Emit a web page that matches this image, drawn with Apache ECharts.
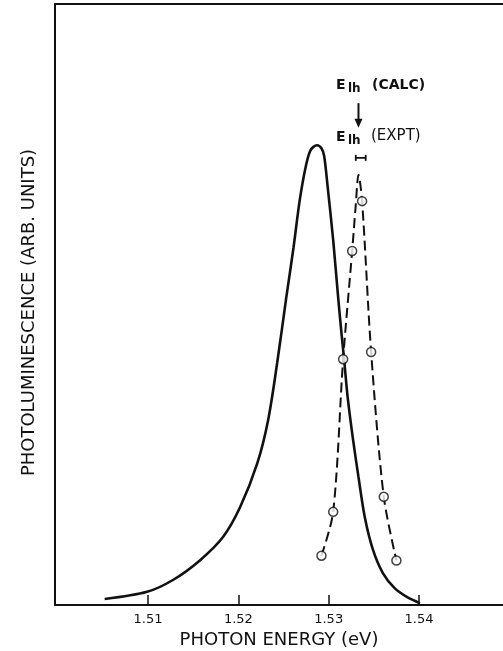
<!DOCTYPE html>
<html lang="en">
<head>
    <meta charset="UTF-8">
    <title>Photoluminescence</title>
    <script src="https://cdn.jsdelivr.net/npm/echarts@6/dist/echarts.min.js"></script>
    <style>
        html, body { margin: 0; padding: 0; background: #fff; }
        #main { width: 503px; height: 651px; }
    </style>
</head>
<body>
<div id="main"></div>
<script>
    // photon energy (eV) / intensity (arb. units, 0-100)
    var calcX = [1.5052, 1.5099, 1.5128, 1.5158, 1.5183, 1.5202, 1.5221, 1.5233, 1.5243, 1.5253,
        1.5261, 1.5268, 1.5275, 1.5280, 1.5287, 1.5292, 1.5295, 1.5299, 1.5305,
        1.5310, 1.5314, 1.5317, 1.5321, 1.5327, 1.5333, 1.5340, 1.5349, 1.5360, 1.5373,
        1.5387, 1.5401];
    var calcY = [1.0, 2.2, 4.2, 7.5, 11.3, 16.3, 23.6, 30.8, 40.3, 51.1,
        59.4, 67.4, 73.2, 75.7, 76.5, 76.0, 74.7, 69.4, 60.7,
        52.0, 45.5, 41.0, 34.6, 27.5, 21.3, 14.6, 9.2, 5.3, 2.8,
        1.3, 0.3];

    // measured points (circles)
    var exptX = [1.5292, 1.5305, 1.5316, 1.5326, 1.5337, 1.5347, 1.5361, 1.5375];
    var exptY = [8.2, 15.5, 40.9, 58.9, 67.2, 42.1, 18.0, 7.4];

    // hand-drawn dashed curve through the measured points
    var fitX = [1.5292, 1.5305, 1.5316, 1.5326, 1.5330, 1.5333, 1.5337, 1.5347, 1.5361, 1.5375];
    var fitY = [8.2, 15.5, 40.9, 58.9, 66.6, 71.6, 67.2, 42.1, 18.0, 7.4];

    var xTicks = [1.51, 1.52, 1.53, 1.54];

    // E_lh markers: calc arrow [x, yFrom, yTo] and expt error bar [xLow, xHigh, y]
    var arrow = [1.5333, 83.5, 79.4];
    var errBar = [1.5330, 1.5341, 74.4];

    function pairs(xs, ys) {
        return xs.map(function (x, i) { return [x, ys[i]]; });
    }

    var myChart = echarts.init(document.getElementById('main'));

    var font = '"DejaVu Sans", sans-serif';
    var ink = '#111';
    var option = {
        backgroundColor: '#fff',
        animation: false,
        grid: { left: 55, right: 0, top: 4, bottom: 46, outerBoundsMode: 'none', containLabel: false },
        xAxis: [{
            type: 'value',
            min: 1.4997,
            max: 1.5493,
            name: 'PHOTON ENERGY (eV)',
            nameLocation: 'middle',
            nameGap: 24,
            nameTextStyle: { fontFamily: font, fontSize: 18, color: ink },
            axisLine: { show: true, lineStyle: { color: ink, width: 2 } },
            axisTick: { show: true, inside: true, length: 10, customValues: xTicks, lineStyle: { color: ink, width: 1.5 } },
            axisLabel: { customValues: xTicks, margin: 8, fontFamily: font, fontSize: 13, color: ink,
                formatter: function (v) { return v.toFixed(2); } },
            splitLine: { show: false }
        }, {
            type: 'value',
            position: 'top',
            min: 1.4997,
            max: 1.5493,
            axisLine: { show: true, lineStyle: { color: ink, width: 2 } },
            axisTick: { show: false },
            axisLabel: { show: false },
            splitLine: { show: false }
        }],
        yAxis: {
            type: 'value',
            min: 0,
            max: 100,
            name: 'PHOTOLUMINESCENCE (ARB. UNITS)',
            nameLocation: 'middle',
            nameGap: 17,
            nameTextStyle: { fontFamily: font, fontSize: 18, color: ink, padding: [0, 16, 0, 0] },
            axisLine: { show: true, lineStyle: { color: ink, width: 2 } },
            axisTick: { show: false },
            axisLabel: { show: false },
            splitLine: { show: false }
        },
        series: [{
            name: 'calc',
            type: 'line',
            data: pairs(calcX, calcY),
            smooth: 0.3,
            showSymbol: false,
            lineStyle: { color: ink, width: 2.6 }
        }, {
            name: 'fit',
            type: 'line',
            data: pairs(fitX, fitY),
            smooth: 0.3,
            showSymbol: false,
            lineStyle: { color: ink, width: 2, type: [10, 5] }
        }, {
            name: 'expt',
            type: 'scatter',
            data: pairs(exptX, exptY),
            symbol: 'circle',
            symbolSize: 9,
            itemStyle: { color: '#fff', borderColor: ink, borderWidth: 1.5 },
            z: 5
        }, {
            name: 'markers',
            type: 'custom',
            data: [[errBar[0], errBar[1], errBar[2], arrow[0], arrow[1], arrow[2]]],
            renderItem: function (params, api) {
                var a = api.coord([api.value(0), api.value(2)]);
                var b = api.coord([api.value(1), api.value(2)]);
                var t = api.coord([api.value(3), api.value(4)]);
                var h = api.coord([api.value(3), api.value(5)]);
                var st = { stroke: ink, lineWidth: 1.8 };
                return {
                    type: 'group',
                    children: [
                        { type: 'line', shape: { x1: a[0], y1: a[1], x2: b[0], y2: b[1] }, style: st },
                        { type: 'line', shape: { x1: a[0], y1: a[1] - 3, x2: a[0], y2: a[1] + 3 }, style: st },
                        { type: 'line', shape: { x1: b[0], y1: b[1] - 3, x2: b[0], y2: b[1] + 3 }, style: st },
                        { type: 'line', shape: { x1: t[0], y1: t[1], x2: h[0], y2: h[1] - 7 }, style: { stroke: ink, lineWidth: 2 } },
                        { type: 'polygon', shape: { points: [[h[0] - 4, h[1] - 9], [h[0] + 4, h[1] - 9], [h[0], h[1]]] }, style: { fill: ink } }
                    ]
                };
            }
        }],
        graphic: [
            { type: 'text', left: 336, top: 78, style: { text: 'E', font: 'bold 14px ' + font, fill: ink } },
            { type: 'text', left: 348, top: 83, style: { text: 'lh', font: 'bold 12px ' + font, fill: ink } },
            { type: 'text', left: 372, top: 78, style: { text: '(CALC)', font: 'bold 14px ' + font, fill: ink } },
            { type: 'text', left: 336, top: 130, style: { text: 'E', font: 'bold 14px ' + font, fill: ink } },
            { type: 'text', left: 348, top: 135, style: { text: 'lh', font: 'bold 12px ' + font, fill: ink } },
            { type: 'text', left: 371, top: 129, style: { text: '(EXPT)', font: '15px ' + font, fill: ink } }
        ]
    };

    myChart.setOption(option);
</script>
</body>
</html>
